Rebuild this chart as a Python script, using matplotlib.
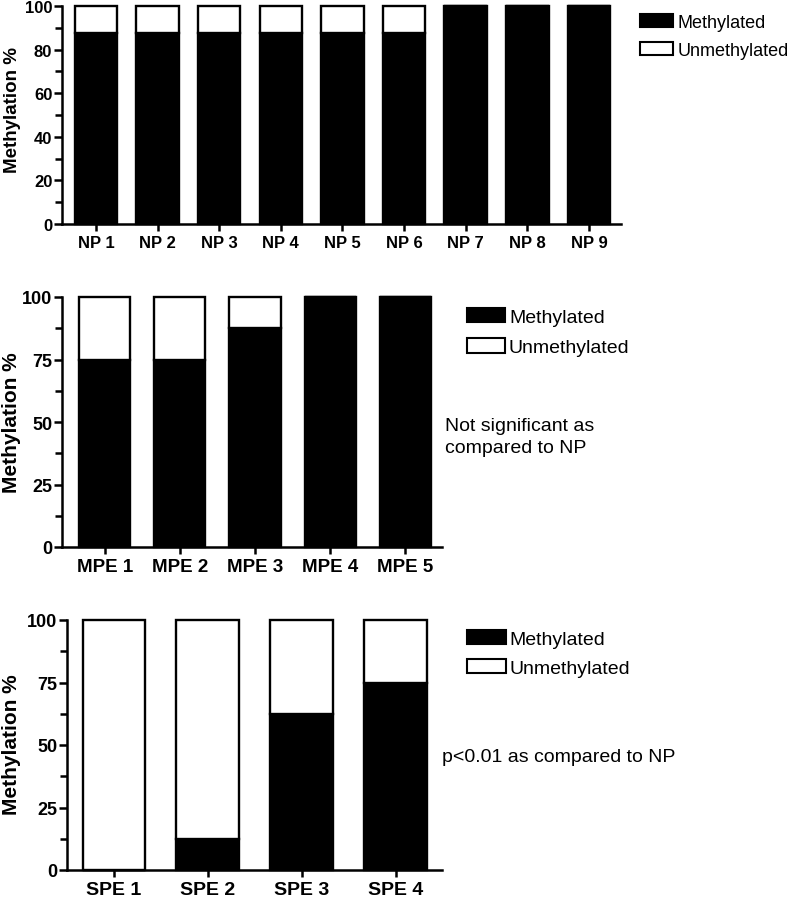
import matplotlib
matplotlib.use("Agg")
import matplotlib.pyplot as plt
from matplotlib.patches import Patch

plt.rcParams['font.family'] = ['Liberation Sans', 'DejaVu Sans']

# data
np_labels = ["NP 1", "NP 2", "NP 3", "NP 4", "NP 5", "NP 6", "NP 7", "NP 8", "NP 9"]
np_meth = [87.5, 87.5, 87.5, 87.5, 87.5, 87.5, 100, 100, 100]

mpe_labels = ["MPE 1", "MPE 2", "MPE 3", "MPE 4", "MPE 5"]
mpe_meth = [75, 75, 87.5, 100, 100]

spe_labels = ["SPE 1", "SPE 2", "SPE 3", "SPE 4"]
spe_meth = [0, 12.5, 62.5, 75]

W, H = 788, 903
fig = plt.figure(figsize=(W / 100, H / 100), dpi=100)


def px_axes(left, top, right, bottom):
    # pixel box -> figure fraction
    return fig.add_axes([left / W, 1 - bottom / H, (right - left) / W, (bottom - top) / H])


def draw_panel(ax, labels, meth, xlim, width, yticks, minor, tick_fs, lab_fs):
    x = list(range(len(labels)))
    unmeth = [100 - m for m in meth]
    ax.bar(x, meth, width=width, color='black', edgecolor='black', linewidth=1.7, clip_on=False)
    ax.bar(x, unmeth, bottom=meth, width=width, color='white', edgecolor='black',
           linewidth=1.7, clip_on=False)
    ax.set_xlim(*xlim)
    ax.set_ylim(0, 100)
    ax.set_yticks(yticks)
    ax.set_yticks(minor, minor=True)
    ax.set_xticks(x)
    ax.set_xticklabels(labels, fontweight='bold', fontsize=lab_fs)
    for t in ax.get_yticklabels():
        t.set_fontweight('bold')
        t.set_fontsize(tick_fs)
    for s in ['top', 'right']:
        ax.spines[s].set_visible(False)
    for s in ['left', 'bottom']:
        ax.spines[s].set_linewidth(1.8)
    ax.tick_params(axis='y', which='major', length=6, width=1.8, pad=1)
    ax.tick_params(axis='y', which='minor', length=5, width=1.8)
    ax.tick_params(axis='x', which='major', length=5, width=1.8, pad=3)


handles = [Patch(facecolor='black', edgecolor='black', linewidth=1.5, label='Methylated'),
           Patch(facecolor='white', edgecolor='black', linewidth=1.5, label='Unmethylated')]

# panel 1 - NP
ax1 = px_axes(62, 7, 621, 225)
draw_panel(ax1, np_labels, np_meth, (-0.55, 8.52), 0.69,
           [0, 20, 40, 60, 80, 100], [10, 30, 50, 70, 90], 12, 12)
fig.text(13 / W, 1 - 110 / H, "Methylation %", rotation=90, ha='center', va='center',
         fontweight='bold', fontsize=13.5)
fig.legend(handles=handles, loc='upper left', bbox_to_anchor=(640 / W, 1 - 15 / H),
           frameon=False, fontsize=13, handlelength=1.85, handleheight=0.72,
           handletextpad=0.22, labelspacing=0.62, borderpad=0, borderaxespad=0)

# panel 2 - MPE
ax2 = px_axes(62, 298, 442, 548)
draw_panel(ax2, mpe_labels, mpe_meth, (-0.57, 4.49), 0.68,
           [0, 25, 50, 75, 100], [12.5, 37.5, 62.5, 87.5], 13, 13.5)
fig.text(12 / W, 1 - 423 / H, "Methylation %", rotation=90, ha='center', va='center',
         fontweight='bold', fontsize=15)
fig.legend(handles=handles, loc='upper left', bbox_to_anchor=(467 / W, 1 - 309 / H),
           frameon=False, fontsize=14, handlelength=1.96, handleheight=0.77,
           handletextpad=0.2, labelspacing=0.62, borderpad=0, borderaxespad=0)
fig.text(445 / W, 1 - 418 / H, "Not significant as\ncompared to NP", ha='left', va='top',
         fontsize=14, linespacing=1.35)

# panel 3 - SPE
ax3 = px_axes(67, 621, 442, 871)
draw_panel(ax3, spe_labels, spe_meth, (-0.5, 3.49), 0.67,
           [0, 25, 50, 75, 100], [12.5, 37.5, 62.5, 87.5], 13, 14)
fig.text(12 / W, 1 - 745 / H, "Methylation %", rotation=90, ha='center', va='center',
         fontweight='bold', fontsize=15)
fig.legend(handles=handles, loc='upper left', bbox_to_anchor=(467 / W, 1 - 631 / H),
           frameon=False, fontsize=14, handlelength=2.0, handleheight=0.77,
           handletextpad=0.2, labelspacing=0.55, borderpad=0, borderaxespad=0)
fig.text(442 / W, 1 - 758 / H, "p<0.01 as compared to NP", ha='left', va='center',
         fontsize=14)

fig.savefig("out.png", dpi=100)
